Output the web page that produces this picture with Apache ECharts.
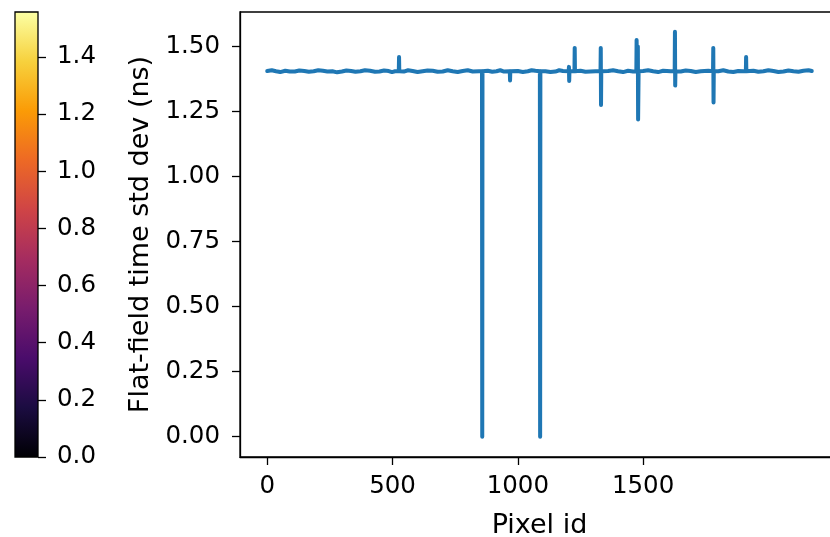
<!DOCTYPE html>
<html>
<head>
<meta charset="utf-8">
<script src="https://cdn.jsdelivr.net/npm/echarts@6/dist/echarts.min.js"></script>
<style>html,body{margin:0;padding:0;background:#fff}#c{width:830px;height:537px}</style>
</head>
<body>
<div id="c"></div>
<script>
// ---- data ----
const baseIds = [0,18,35,52,72,90,110,128,148,166,185,204,222,240,260,279,298,316,335,352,372,390,410,430,448,466,485,498,510,545,562,580,600,620,640,660,680,700,720,740,760,780,800,820,845,880,898,915,930,945,1000,1020,1040,1055,1070,1110,1130,1150,1165,1180,1215,1250,1270,1290,1310,1360,1380,1400,1420,1440,1460,1500,1520,1540,1560,1580,1610,1650,1670,1690,1710,1730,1760,1800,1820,1840,1860,1880,1900,1940,1960,1980,2000,2020,2040,2060,2080,2100,2120,2140,2160,2173];
const baseVals = [1.406,1.409,1.405,1.402,1.407,1.404,1.404,1.408,1.406,1.403,1.405,1.409,1.407,1.404,1.405,1.401,1.404,1.408,1.406,1.403,1.405,1.409,1.407,1.403,1.404,1.408,1.406,1.402,1.405,1.404,1.409,1.406,1.402,1.405,1.408,1.407,1.403,1.404,1.409,1.405,1.402,1.406,1.409,1.404,1.405,1.407,1.403,1.405,1.409,1.404,1.406,1.402,1.405,1.409,1.407,1.405,1.402,1.404,1.409,1.406,1.405,1.407,1.403,1.404,1.405,1.406,1.409,1.405,1.402,1.407,1.404,1.406,1.409,1.405,1.402,1.407,1.405,1.404,1.408,1.406,1.402,1.405,1.407,1.405,1.409,1.404,1.402,1.406,1.405,1.407,1.403,1.405,1.409,1.406,1.402,1.404,1.408,1.405,1.403,1.407,1.409,1.406];
const spikeIds = [525,526,527, 857,858,859, 968,969,970, 1088,1089,1090, 1203,1204,1205,1206, 1226,1227,1228, 1330,1331,1332,1333, 1473,1474,1476,1479,1480,1482, 1626,1627,1628,1629, 1779,1780,1781,1782, 1910,1911,1912];
const spikeVals = [1.405,1.460,1.405, 1.405,0.000,1.405, 1.405,1.370,1.405, 1.405,0.000,1.405, 1.405,1.422,1.368,1.405, 1.405,1.495,1.405, 1.405,1.495,1.275,1.405, 1.405,1.525,1.405,1.500,1.220,1.405, 1.405,1.557,1.350,1.405, 1.405,1.495,1.285,1.405, 1.405,1.460,1.405];
const xTicks = [0,500,1000,1500];
const yTicks = [0,0.25,0.5,0.75,1.0,1.25,1.5];
const cbTicks = [0,0.2,0.4,0.6,0.8,1.0,1.2,1.4];
const cbMax = 1.557;
const infernoStops = ['#000004','#1b0c41','#4a0c6b','#781c6d','#a52c60','#cf4446','#ed6925','#fb9b06','#f7d13d','#fcffa4'];

// ---- build ----
const pts = [];
baseIds.forEach((id,i)=>pts.push([id, baseVals[i]]));
spikeIds.forEach((id,i)=>pts.push([id, spikeVals[i]]));
pts.sort((a,b)=>a[0]-b[0]);

const FONT = 'DejaVu Sans';
const FS = 24.5;
const NFS = 27;
const xMin = -108.7, xMax = 2281.7;
const yMin = -0.078, yMax = 1.633;

const chart = echarts.init(document.getElementById('c'), null, {renderer:'canvas'});
chart.setOption({
  animation:false,
  backgroundColor:'#fff',
  textStyle:{fontFamily:FONT},
  grid:[
    {left:240, top:12, width:599, height:445, outerBoundsMode:'none', containLabel:false, show:true, borderColor:'#000', borderWidth:1.3, backgroundColor:'transparent'},
    {left:15, top:12, width:23, height:445, outerBoundsMode:'none', containLabel:false, show:true, borderColor:'#000', borderWidth:1.3, backgroundColor:'transparent', z:5}
  ],
  xAxis:[
    {gridIndex:0, type:'value', min:xMin, max:xMax,
     name:'Pixel id', nameLocation:'middle', nameGap:55,
     nameTextStyle:{fontFamily:FONT, fontSize:NFS, color:'#000'},
     axisLine:{show:true, onZero:false, lineStyle:{color:'#000', width:1.3}},
     axisTick:{show:true, length:8, lineStyle:{color:'#000', width:1.3}, customValues:xTicks},
     axisLabel:{show:true, margin:17, fontFamily:FONT, fontSize:FS, color:'#000', customValues:xTicks, formatter:v=>String(v)},
     splitLine:{show:false}},
    {gridIndex:1, type:'category', data:['c'], show:false, boundaryGap:true}
  ],
  yAxis:[
    {gridIndex:0, type:'value', min:yMin, max:yMax,
     name:'Flat-field time std dev (ns)', nameLocation:'middle', nameGap:86,
     nameTextStyle:{fontFamily:FONT, fontSize:NFS, color:'#000'},
     axisLine:{show:true, onZero:false, lineStyle:{color:'#000', width:1.3}},
     axisTick:{show:true, length:8, lineStyle:{color:'#000', width:1.3}, customValues:yTicks},
     axisLabel:{show:true, margin:20, fontFamily:FONT, fontSize:FS, color:'#000', customValues:yTicks, formatter:v=>v.toFixed(2)},
     splitLine:{show:false}},
    {gridIndex:1, type:'value', min:0, max:cbMax, position:'right',
     axisLine:{show:false},
     axisTick:{show:true, length:8, lineStyle:{color:'#000', width:1.3}, customValues:cbTicks},
     axisLabel:{show:true, margin:19, fontFamily:FONT, fontSize:FS, color:'#000', customValues:cbTicks, formatter:v=>v.toFixed(1)},
     splitLine:{show:false}}
  ],
  series:[
    {type:'line', xAxisIndex:0, yAxisIndex:0, data:pts, showSymbol:false, symbol:'none',
     lineStyle:{color:'#1f77b4', width:4, join:'round', cap:'round'}, z:3},
    {type:'bar', xAxisIndex:1, yAxisIndex:1, data:[cbMax], barWidth:'100%',
     itemStyle:{color:new echarts.graphic.LinearGradient(0,1,0,0, infernoStops.map((c,i)=>({offset:i/(infernoStops.length-1), color:c})))}}
  ]
});
</script>
</body>
</html>
